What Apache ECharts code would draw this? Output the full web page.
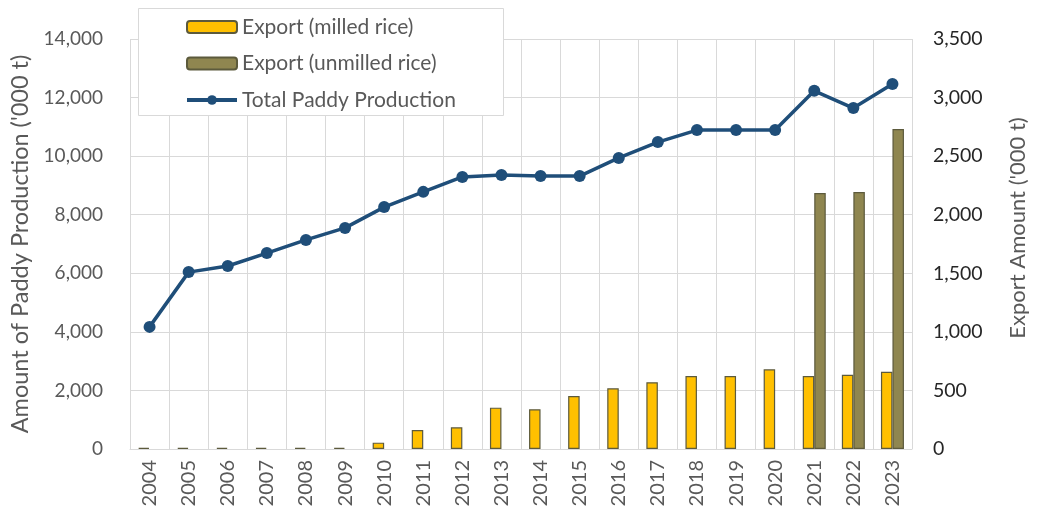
<!DOCTYPE html>
<html>
<head>
<meta charset="utf-8">
<script src="https://cdn.jsdelivr.net/npm/echarts@6/dist/echarts.min.js"></script>
<style>
  html, body { margin: 0; padding: 0; background: #fff; }
  #chart { width: 1039px; height: 513px; }
</style>
</head>
<body>
<div id="chart"></div>
<script>
// years on the x axis
const years = ['2004', '2005', '2006', '2007', '2008', '2009', '2010', '2011', '2012', '2013',
  '2014', '2015', '2016', '2017', '2018', '2019', '2020', '2021', '2022', '2023'];
// export of milled rice ('000 t), right axis
const milledExport = [10, 10, 10, 10, 10, 10, 54, 162, 185, 353,
  339, 452, 518, 570, 623, 623, 680, 623, 634, 660];
// export of unmilled rice ('000 t), right axis; no bar before 2021
const unmilledExport = [null, null, null, null, null, null, null, null, null, null,
  null, null, null, null, null, null, null, 2185, 2194, 2732];
// total paddy production ('000 t), left axis
const paddyProduction = [4170, 6040, 6250, 6690, 7140, 7550, 8260, 8780, 9290, 9360,
  9320, 9320, 9940, 10480, 10890, 10890, 10890, 12230, 11640, 12460];

const fontFamily = 'Lato, "Open Sans", sans-serif';
const fmt = v => v.toLocaleString('en-US');

const chart = echarts.init(document.getElementById('chart'));
chart.setOption({
  animation: false,
  textStyle: { fontFamily: fontFamily },
  grid: { left: 130, right: 127, top: 39, bottom: 64 },
  // legend frame
  graphic: [{
    type: 'rect',
    z: 3,
    shape: { x: 138.5, y: 8.5, width: 365, height: 107 },
    style: { fill: '#fff', stroke: '#d9d9d9', lineWidth: 1 }
  }],
  legend: {
    orient: 'vertical',
    left: 185,
    top: 15,
    padding: 0,
    itemGap: 12.5,
    itemWidth: 50,
    itemHeight: 12,
    textStyle: { fontSize: 21, color: '#595959', fontFamily: fontFamily, lineHeight: 24 },
    data: [
      'Export (milled rice)',
      'Export (unmilled rice)',
      { name: 'Total Paddy Production', lineStyle: { width: 4 } }
    ]
  },
  xAxis: {
    type: 'category',
    data: years,
    boundaryGap: true,
    axisLine: { lineStyle: { color: '#d9d9d9' } },
    axisTick: { show: false },
    axisLabel: { rotate: 90, margin: 11, fontSize: 20, color: '#595959' },
    splitLine: { show: true, lineStyle: { color: '#d9d9d9' } }
  },
  yAxis: [
    {
      type: 'value',
      min: 0,
      max: 14000,
      interval: 2000,
      name: "Amount of Paddy Production ('000 t)",
      nameLocation: 'middle',
      nameGap: 98,
      nameTextStyle: { fontSize: 23.5, color: '#595959' },
      axisLine: { show: false },
      axisTick: { show: false },
      axisLabel: { margin: 27, fontSize: 19, color: '#595959', formatter: fmt },
      splitLine: { lineStyle: { color: '#d9d9d9' } }
    },
    {
      type: 'value',
      min: 0,
      max: 3500,
      interval: 500,
      name: "Export Amount ('000 t)",
      nameLocation: 'middle',
      nameGap: 95,
      nameTextStyle: { fontSize: 22, color: '#595959', padding: [0, 0, 0, 32] },
      axisLine: { show: false },
      axisTick: { show: false },
      axisLabel: { margin: 21, fontSize: 19.5, color: '#262626', formatter: fmt },
      splitLine: { show: false }
    }
  ],
  series: [
    {
      name: 'Export (milled rice)',
      type: 'bar',
      yAxisIndex: 1,
      data: milledExport,
      barWidth: 11.5,
      barGap: '0%',
      itemStyle: { color: '#FFC000', borderColor: '#5c5a3c', borderWidth: 1.2 }
    },
    {
      name: 'Export (unmilled rice)',
      type: 'bar',
      yAxisIndex: 1,
      data: unmilledExport,
      barWidth: 11.5,
      barGap: '0%',
      itemStyle: { color: '#8F8650', borderColor: '#5c5a3c', borderWidth: 1.2 }
    },
    {
      name: 'Total Paddy Production',
      type: 'line',
      yAxisIndex: 0,
      data: paddyProduction,
      symbol: 'circle',
      symbolSize: 12,
      lineStyle: { color: '#1F4E79', width: 3.5 },
      itemStyle: { color: '#1F4E79' }
    }
  ]
});
</script>
</body>
</html>
